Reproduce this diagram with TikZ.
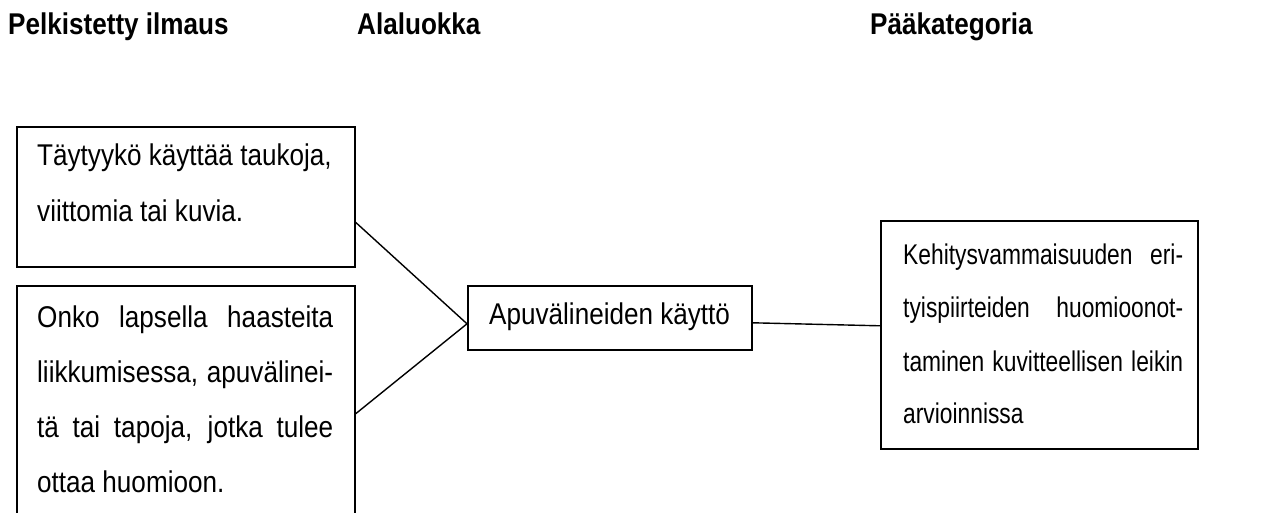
\documentclass[tikz,border=0pt]{standalone}
\usepackage{fontspec}
\setmainfont{Liberation Sans}
\newfontfamily\bodyfont{Liberation Sans}[FakeStretch=0.87]
\newfontfamily\rbodyfont{Liberation Sans}[FakeStretch=0.8]
\newfontfamily\headfont{Liberation Sans}[FakeStretch=0.87]
\usetikzlibrary{calc}
\begin{document}
\begin{tikzpicture}[x=1pt,y=-1pt,
  box/.style={draw,line width=1.6pt,rectangle,inner sep=0pt,anchor=north west},
  txt/.style={anchor=base west,inner sep=0pt,font=\bodyfont\fontsize{30}{34}\selectfont},
  rtxt/.style={anchor=base west,inner sep=0pt,font=\rbodyfont\fontsize{28.5}{32}\selectfont},
  head/.style={anchor=base west,inner sep=0pt,font=\headfont\bfseries\fontsize{30}{34}\selectfont},
  conn/.style={line width=1.4pt}]
\useasboundingbox (0,0) rectangle (1270,513);
\fill[white] (0,0) rectangle (1270,513);
% headings
\node[head] (h1) at (8,35) {Pelkistetty ilmaus};
\node[head] (h2) at (357,35) {Alaluokka};
\node[head] (h3) at (870,35) {Pääkategoria};
% boxes
\node[box,minimum width=338pt,minimum height=140pt] (b1) at (16,126) {};
\node[box,minimum width=338pt,minimum height=256pt] (b2) at (16,285) {};
\node[box,minimum width=284pt,minimum height=64pt] (m) at (467,285) {};
\node[box,minimum width=317pt,minimum height=228pt] (r) at (880,220) {};
% texts
\node[txt] (t1a) at (37,166) {Täytyykö käyttää taukoja,};
\node[txt] (t1b) at (37,222) {viittomia tai kuvia.};
\node[txt] (t2a) at (37,327) {\makebox[296pt][s]{Onko lapsella haasteita}};
\node[txt] (t2b) at (37,382) {\makebox[296pt][s]{liikkumisessa, apuvälinei-}};
\node[txt] (t2c) at (37,437) {\makebox[296pt][s]{tä tai tapoja, jotka tulee}};
\node[txt] (t2d) at (37,492) {ottaa huomioon.};
\node[txt] (tm) at (489,324) {Apuvälineiden käyttö};
\node[rtxt] (r1) at (903,265) {\makebox[280pt][s]{Kehitysvammaisuuden eri-}};
\node[rtxt] (r2) at (903,318) {\makebox[280pt][s]{tyispiirteiden huomioonot-}};
\node[rtxt] (r3) at (903,371) {\makebox[280pt][s]{taminen kuvitteellisen leikin}};
\node[rtxt] (r4) at (903,423) {arvioinnissa};
% connectors
\draw[conn] ($(b1.north east)!0.68!(b1.south east)$) -- ([yshift=-6pt]m.west);
\draw[conn] (b2.east) -- ([yshift=-6pt]m.west);
\draw[conn] ([yshift=-5pt]m.east) -- ([yshift=9pt]r.west);
\end{tikzpicture}
\end{document}
